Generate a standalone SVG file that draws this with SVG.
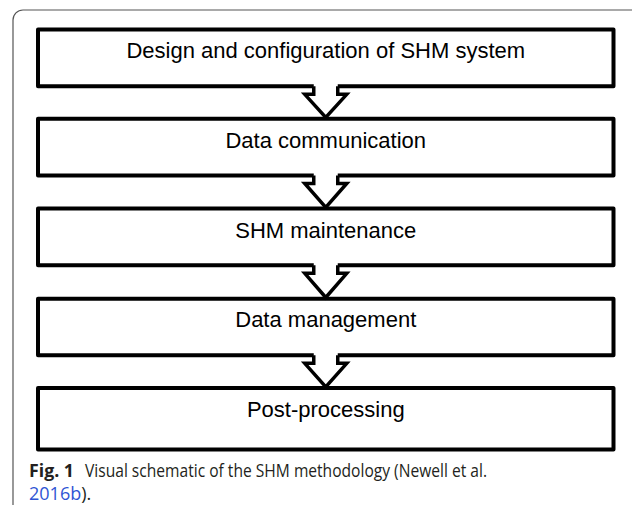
<svg xmlns="http://www.w3.org/2000/svg" width="632" height="505" viewBox="0 0 632 505">
<style>
.box{fill:#fff;stroke:#000;stroke-width:4;stroke-linejoin:round}
.lbl{font-family:"Liberation Sans",Arial,sans-serif;font-size:22px;fill:#000;text-anchor:middle}
.arr{fill:#fff;stroke:#000;stroke-width:3.5;stroke-linejoin:miter;stroke-miterlimit:10}
.cap{font-family:"Open Sans","Noto Sans",sans-serif;font-size:18px;fill:#231f20}
</style>
<rect x="13" y="10" width="650" height="530" rx="10" ry="10" fill="#fff" stroke="#555" stroke-width="1.2"/>
<g id="n1"><rect class="box" x="38" y="29.5" width="575.5" height="56.8"/><text class="lbl" x="325.75" y="58">Design and configuration of SHM system</text></g>
<g id="n2"><rect class="box" x="38" y="118.7" width="575.5" height="56.8"/><text class="lbl" x="325.75" y="148">Data communication</text></g>
<g id="n3"><rect class="box" x="38" y="208.5" width="575.5" height="56.8"/><text class="lbl" x="325.75" y="238">SHM maintenance</text></g>
<g id="n4"><rect class="box" x="38" y="298.7" width="575.5" height="56.6"/><text class="lbl" x="325.75" y="327">Data management</text></g>
<g id="n5"><rect class="box" x="38" y="388" width="575.5" height="61.5"/><text class="lbl" x="325.75" y="417">Post-processing</text></g>
<g id="connectors">
<polygon fill="#fff" points="313.75,84 337.75,84 337.75,90 313.75,90"/>
<polyline class="arr" points="313.75,86.3 313.75,94.3 304.75,94.3 325.75,117.5 346.75,94.3 337.75,94.3 337.75,86.3"/>
<polygon fill="#fff" points="313.75,173 337.75,173 337.75,180 313.75,180"/>
<polyline class="arr" points="313.75,175.5 313.75,183.5 304.75,183.5 325.75,207.3 346.75,183.5 337.75,183.5 337.75,175.5"/>
<polygon fill="#fff" points="313.75,263 337.75,263 337.75,270 313.75,270"/>
<polyline class="arr" points="313.75,265.3 313.75,273.3 304.75,273.3 325.75,297.5 346.75,273.3 337.75,273.3 337.75,265.3"/>
<polygon fill="#fff" points="313.75,353 337.75,353 337.75,360 313.75,360"/>
<polyline class="arr" points="313.75,355.3 313.75,363.3 304.75,363.3 325.75,386.8 346.75,363.3 337.75,363.3 337.75,355.3"/>
</g>
<text class="cap" x="29" y="477" font-weight="bold" textLength="45" lengthAdjust="spacingAndGlyphs">Fig. 1</text>
<text class="cap" x="85" y="477" textLength="402" lengthAdjust="spacingAndGlyphs">Visual schematic of the SHM methodology (Newell et al.</text>
<text class="cap" x="29" y="500"><tspan fill="#2f55d4">2016b</tspan>).</text>
</svg>
